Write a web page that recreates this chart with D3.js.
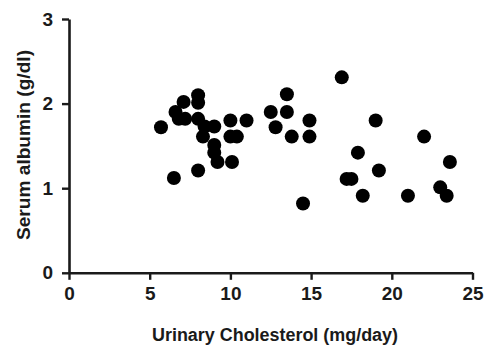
<!DOCTYPE html>
<html>
<head>
<meta charset="utf-8">
<script src="https://cdn.jsdelivr.net/npm/d3@7"></script>
<style>
  html, body { margin: 0; padding: 0; background: #fff; }
  svg { display: block; }
  text { font-family: "Liberation Sans", Arial, sans-serif; font-weight: bold; fill: #1a1a1a; }
</style>
</head>
<body>
<svg id="chart" width="485" height="347"></svg>
<script>
// Urinary cholesterol (mg/day)
const cholesterol = [5.7, 6.5, 6.6, 6.8, 7.1, 7.2, 8.0, 8.0, 8.0, 8.0, 8.3, 8.4, 9.0, 9.0, 9.0, 9.2,
  10.0, 10.0, 10.4, 10.1, 11.0, 12.5, 12.8, 13.5, 13.5, 13.8, 14.9, 14.9, 14.5, 16.9, 17.2, 17.5,
  17.9, 18.2, 19.0, 19.2, 21.0, 22.0, 23.0, 23.4, 23.6];
// Serum albumin (g/dl)
const albumin = [1.72, 1.12, 1.90, 1.82, 2.02, 1.82, 2.10, 2.01, 1.82, 1.21, 1.61, 1.73, 1.73, 1.51, 1.42, 1.31,
  1.80, 1.61, 1.61, 1.31, 1.80, 1.90, 1.72, 2.11, 1.90, 1.61, 1.80, 1.61, 0.82, 2.31, 1.11, 1.11,
  1.42, 0.91, 1.80, 1.21, 0.91, 1.61, 1.01, 0.91, 1.31];
const xTicks = [0, 5, 10, 15, 20, 25];
const yTicks = [0, 1, 2, 3];
const xTitle = "Urinary Cholesterol (mg/day)";
const yTitle = "Serum albumin (g/dl)";

const svg = d3.select("#chart");
const x = d3.scaleLinear().domain([0, 25]).range([69, 472.5]);
const y = d3.scaleLinear().domain([0, 3]).range([272.8, 19]);

// axes
const gx = svg.append("g").attr("transform", `translate(0,${y(0)})`)
  .call(d3.axisBottom(x).tickValues(xTicks).tickFormat(d3.format("d")).tickSize(7).tickSizeOuter(0).tickPadding(7));
const gy = svg.append("g").attr("transform", `translate(${x(0)},0)`)
  .call(d3.axisLeft(y).tickValues(yTicks).tickFormat(d3.format("d")).tickSize(7).tickSizeOuter(0).tickPadding(9));

[gx, gy].forEach(g => {
  g.select(".domain").attr("stroke", "#1a1a1a").attr("stroke-width", 2.6);
  g.selectAll(".tick line").attr("stroke", "#1a1a1a").attr("stroke-width", 2.4);
  g.selectAll(".tick text").attr("font-size", 19).attr("font-family", "Liberation Sans, Arial, sans-serif")
    .attr("font-weight", "bold").attr("fill", "#1a1a1a");
});
gx.selectAll(".tick text").attr("dy", "0.72em");

// points
svg.append("g").selectAll("circle")
  .data(cholesterol.map((c, i) => [c, albumin[i]]))
  .join("circle")
  .attr("cx", d => x(d[0]))
  .attr("cy", d => y(d[1]))
  .attr("r", 7)
  .attr("fill", "#000");

// titles
svg.append("text")
  .attr("x", 275).attr("y", 341)
  .attr("text-anchor", "middle")
  .attr("font-size", 18)
  .attr("textLength", 246).attr("lengthAdjust", "spacingAndGlyphs")
  .text(xTitle);

svg.append("text")
  .attr("transform", "translate(30,145) rotate(-90)")
  .attr("text-anchor", "middle")
  .attr("font-size", 18)
  .attr("textLength", 190).attr("lengthAdjust", "spacingAndGlyphs")
  .text(yTitle);
</script>
</body>
</html>
